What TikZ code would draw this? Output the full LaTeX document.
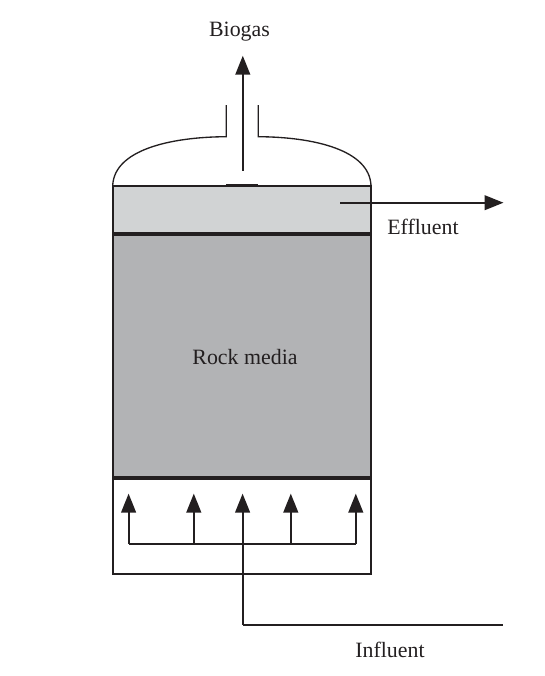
\documentclass[tikz,border=0pt]{standalone}
\usepackage{fontspec}
\setmainfont{Liberation Serif}
\usetikzlibrary{arrows.meta}
\definecolor{lightfill}{HTML}{D1D3D4}
\definecolor{rockfill}{HTML}{B2B3B5}
\definecolor{ink}{HTML}{231F20}
\tikzset{
  wall/.style={draw=ink,line width=1.5pt},
  bar/.style={draw=ink,line width=2.9pt},
  thin outline/.style={draw=ink,line width=1pt},
  pipe/.style={draw=ink,line width=1.5pt},
  flow/.style={draw=ink,line width=1.5pt,-{Triangle[length=14.2pt,width=11pt]}},
  lbl/.style={text=ink,font=\fontsize{16.4pt}{18pt}\selectfont,inner sep=0pt}
}
\begin{document}
\begin{tikzpicture}[x=0.75pt,y=-0.75pt]
\useasboundingbox (0,0) rectangle (545,676);
% named anchor points
\coordinate (tl) at (112.7,185.7);
\coordinate (tr) at (371,185.7);
\coordinate (sl) at (112.7,233.8);
\coordinate (sr) at (371,233.8);
\coordinate (ml) at (112.7,477.7);
\coordinate (mr) at (371,477.7);
\coordinate (bl) at (112.7,573.7);
\coordinate (br) at (371,573.7);
% fills
\fill[lightfill] (tl) rectangle (sr);
\fill[rockfill] (sl) rectangle (mr);
% dome and neck
\draw[thin outline] (tl) -- (tr);
\draw[thin outline] (tl) .. controls (114,150) and (170,137) .. (226.3,136.7) -- (226.3,105);
\draw[thin outline] (tr) .. controls (369.7,150) and (314,137) .. (258.3,136.7) -- (258.3,105);
\draw[draw=ink,line width=1.5pt] (226,185.4) -- (257.5,185.4);
% vessel
\draw[wall] (tl) -- (bl) -- (br) -- (tr) -- cycle;
\draw[bar] (sl) -- (sr);
\draw[bar] (ml) -- (mr);
% outlet flows
\coordinate (gasstart) at (242.8,170.7);
\coordinate (gasend) at (242.8,55.7);
\draw[flow] (gasstart) -- (gasend);
\coordinate (effstart) at (340,202.7);
\coordinate (effend) at (503.5,202.7);
\draw[flow] (effstart) -- (effend);
% distributor
\coordinate (d1) at (128.6,543.7);
\coordinate (d2) at (193.8,543.7);
\coordinate (d3) at (242.6,543.7);
\coordinate (d4) at (290.8,543.7);
\coordinate (d5) at (355.8,543.7);
\coordinate (u1) at (128.6,493.6);
\draw[pipe] (d1) -- (d5);
\draw[flow] (d1) -- (d1 |- u1);
\draw[flow] (d2) -- (d2 |- u1);
\draw[flow] (d3) -- (d3 |- u1);
\draw[flow] (d4) -- (d4 |- u1);
\draw[flow] (d5) -- (d5 |- u1);
% influent
\coordinate (inend) at (503,625);
\draw[pipe] (d3) -- (d3 |- inend);
\draw[draw=ink,line width=1pt] (d3 |- inend) -- (inend);
% labels
\node[lbl] (biogas) at (239.5,32) {Biogas};
\node[lbl] (effluent) at (423,227) {Effluent};
\node[lbl] (rock) at (245,357) {Rock media};
\node[lbl] (influent) at (390,650) {Influent};
\end{tikzpicture}
\end{document}
